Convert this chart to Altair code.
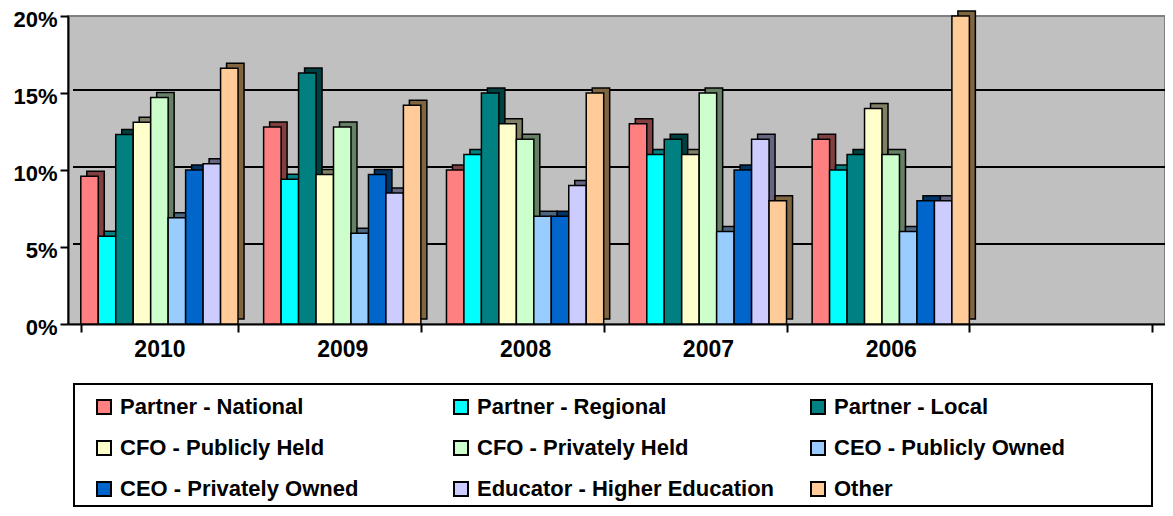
import altair as alt
import pandas as pd

years = ["2010", "2009", "2008", "2007", "2006"]
x_domain = years + [" "]
series = ["Partner - National", "Partner - Regional", "Partner - Local",
          "CFO - Publicly Held", "CFO - Privately Held", "CEO - Publicly Owned",
          "CEO - Privately Owned", "Educator - Higher Education", "Other"]

partner_national = [9.6, 12.8, 10.0, 13.0, 12.0]
partner_regional = [5.7, 9.4, 11.0, 11.0, 10.0]
partner_local = [12.3, 16.3, 15.0, 12.0, 11.0]
cfo_public = [13.1, 9.7, 13.0, 11.0, 14.0]
cfo_private = [14.7, 12.8, 12.0, 15.0, 11.0]
ceo_public = [6.9, 5.9, 7.0, 6.0, 6.0]
ceo_private = [10.0, 9.7, 7.0, 10.0, 8.0]
educator = [10.4, 8.5, 9.0, 12.0, 8.0]
other = [16.6, 14.2, 15.0, 8.0, 20.0]

y_ticks = [0, 5, 10, 15, 20]
grid_values = [5, 10, 15]

front_colors = ["#FF8080", "#00FFFF", "#008080", "#FFFFCC", "#CCFFCC",
                "#99CCFF", "#0066CC", "#CCCCFF", "#FFCC99"]
side_colors = ["#804040", "#008080", "#004040", "#808066", "#668066",
               "#4D6680", "#003366", "#666680", "#806640"]

all_values = [partner_national, partner_regional, partner_local, cfo_public,
              cfo_private, ceo_public, ceo_private, educator, other]
rows = []
for s, vals in zip(series, all_values):
    for y, v in zip(years, vals):
        rows.append({"year": y, "series": s, "value": v})
df = pd.DataFrame(rows)

W, H = 1097, 308
FONT = "Liberation Sans"
band_w = W / 6 * 0.86
depth_x, depth_y = 6, 5

x_enc = alt.X("year:N", scale=alt.Scale(domain=x_domain, paddingInner=0.14, paddingOuter=0.07),
              sort=x_domain,
              axis=alt.Axis(title=None, tickBand="extent", labelFontSize=23, labelFont=FONT,
                            labelFontWeight="bold", labelColor="black", labelPadding=6,
                            tickSize=8, tickColor="black", tickWidth=2, domainColor="black",
                            domainWidth=2, labelAngle=0, grid=False))
y_scale = alt.Scale(domain=[0, 20], nice=False)
y_enc = alt.Y("value:Q", scale=y_scale,
              axis=alt.Axis(title=None, values=y_ticks, labelExpr="datum.value + '%'",
                            labelFontSize=22, labelFont=FONT, labelFontWeight="bold",
                            labelColor="black", labelPadding=3, labelOffset=3,
                            tickSize=8, tickColor="black", tickWidth=2,
                            domainColor="black", domainWidth=2, grid=False))

grid = alt.Chart(pd.DataFrame({"v": grid_values})).mark_rule(
    color="black", strokeWidth=2, yOffset=-3
).encode(y=alt.Y("v:Q", scale=y_scale), x=alt.value(5), x2=alt.value(W))

back = alt.Chart(df).mark_bar(stroke="black", strokeWidth=1.5, yOffset=-depth_y).encode(
    x=x_enc,
    y=y_enc,
    xOffset=alt.XOffset("series:N", sort=series,
                        scale=alt.Scale(domain=series, range=[depth_x, depth_x + band_w])),
    color=alt.Color("series:N", scale=alt.Scale(domain=series, range=side_colors), legend=None),
)

front = alt.Chart(df).mark_bar(stroke="black", strokeWidth=1.5).encode(
    x=x_enc,
    y=y_enc,
    xOffset=alt.XOffset("series:N", sort=series,
                        scale=alt.Scale(domain=series, range=[0, band_w])),
    color=alt.Color("series:N", scale=alt.Scale(domain=series, range=front_colors),
                    legend=alt.Legend(orient="none", legendX=25, legendY=380, columns=3,
                                      direction="horizontal", gridAlign="all",
                                      columnPadding=32, rowPadding=19, title=None,
                                      symbolType="square", symbolSize=196,
                                      symbolStrokeColor="black", symbolStrokeWidth=2,
                                      labelFontSize=22, labelFont=FONT,
                                      labelFontWeight="bold", labelColor="black",
                                      labelOffset=5, labelLimit=400)),
)

frame = alt.Chart(alt.Data(values=[{}])).mark_rect(
    fill="white", stroke="black", strokeWidth=2
).encode(x=alt.value(6), x2=alt.value(1084), y=alt.value(368), y2=alt.value(490))

chart = alt.layer(grid, frame, back, front).resolve_scale(
    color="independent", xOffset="independent"
).properties(
    width=W, height=H,
    autosize=alt.AutoSizeParams(type="none"),
    padding={"left": 60, "top": 8, "right": 0, "bottom": 184},
    background="white",
).configure_view(fill="#C0C0C0", stroke="#808080", strokeWidth=2)

chart.save("out.html", embed_options={"renderer": "svg", "actions": False})
